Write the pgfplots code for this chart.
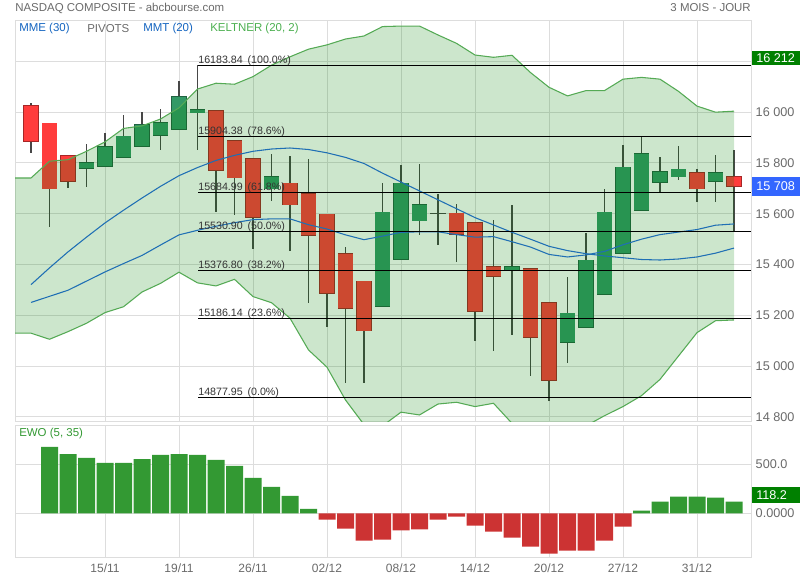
\documentclass[border=0pt]{standalone}
\usepackage{fontspec}
\setmainfont{Liberation Sans}
\usepackage{pgfplots}
\usepackage{pgfplotstable}
\pgfplotsset{compat=1.18}

\definecolor{cgreen}{HTML}{339966}
\definecolor{cred}{HTML}{FF3C3C}
\definecolor{wick}{HTML}{474747}
\definecolor{band}{HTML}{008000}
\definecolor{bandline}{HTML}{55AA55}
\definecolor{maline}{HTML}{1F6FB4}
\definecolor{gridc}{HTML}{DDDDDD}
\definecolor{txt}{HTML}{6A6A6A}
\definecolor{fibtxt}{HTML}{333333}
\definecolor{ewog}{HTML}{339933}
\definecolor{ewor}{HTML}{CC3333}
\definecolor{lblblue}{HTML}{1565C0}
\definecolor{lblgreen}{HTML}{4CAF50}
\definecolor{boxblue}{HTML}{3366FF}
\definecolor{boxgreen}{HTML}{008000}

% daily candles, x = trading-day index
\pgfplotstableread{
i o h l c
0 16026 16036 15838 15885
1 15957 15957 15547 15698
2 15828 15828 15700 15728
3 15779 15876 15707 15801
4 15787 15919 15783 15863
5 15822 15990 15820 15906
6 15866 16001 15864 15951
7 15909 16014 15852 15959
8 15933 16123 15933 16061
9 15997 16184 15852 16010
10 16005 16005 15606 15771
11 15887 15887 15594 15742
12 15816 15816 15460 15587
13 15699 15837 15649 15746
14 15721 15828 15452 15635
15 15678 15817 15248 15515
16 15599 15599 15153 15288
17 15442 15471 14934 15228
18 15335 15335 14934 15139
19 15236 15721 15236 15607
20 15422 15793 15422 15721
21 15572 15797 15515 15635
22 15603 15679 15478 15603
23 15603 15640 15409 15520
24 15564 15564 15098 15216
25 15391 15577 15059 15355
26 15375 15636 15122 15391
27 15383 15383 14963 15114
28 15249 15249 14862 14944
29 15095 15350 15014 15209
30 15154 15524 15154 15418
31 15284 15699 15284 15607
32 15444 15872 15444 15784
33 15615 15905 15615 15837
34 15725 15825 15687 15765
35 15745 15868 15732 15776
36 15761 15776 15645 15698
37 15729 15833 15645 15761
38 15745 15852 15534 15708
}\candles

% bodies of rising days (lo = open, hi = close)
\pgfplotstableread{
i lo hi
3 15779 15801
4 15787 15863
5 15822 15906
6 15866 15951
7 15909 15959
8 15933 16061
9 15997 16010
13 15699 15746
19 15236 15607
20 15422 15721
21 15572 15635
26 15375 15391
29 15095 15209
30 15154 15418
31 15284 15607
32 15444 15784
33 15615 15837
34 15725 15765
35 15745 15776
37 15729 15761
}\upbodies

% bodies of falling days (lo = close, hi = open)
\pgfplotstableread{
i lo hi
0 15885 16026
1 15698 15957
2 15728 15828
10 15771 16005
11 15742 15887
12 15587 15816
14 15635 15721
15 15515 15678
16 15288 15599
17 15228 15442
18 15139 15335
23 15520 15603
24 15216 15564
25 15355 15391
27 15114 15383
28 14944 15249
36 15698 15761
38 15708 15745
}\downbodies

\pgfplotstableread{
i up lo
-1 15741 15130
0 15741 15130
1 15807 15106
2 15813 15136
3 15846 15169
4 15883 15211
5 15936 15234
6 15946 15292
7 15973 15326
8 16017 15370
9 16091 15328
10 16114 15316
11 16110 15342
12 16140 15274
13 16185 15250
14 16218 15189
15 16248 15064
16 16265 14996
17 16288 14867
18 16300 14770
19 16337 14765
20 16339 14819
21 16339 14808
22 16304 14851
23 16271 14858
24 16225 14841
25 16216 14854
26 16224 14775
27 16156 14770
28 16098 14720
29 16064 14720
30 16085 14765
31 16085 14805
32 16130 14841
33 16137 14884
34 16130 14948
35 16082 15040
36 16024 15132
37 16000 15179
38 16004 15182
}\keltner

\pgfplotstableread{
i a b
0 15321 15251
1 15387 15275
2 15450 15299
3 15508 15335
4 15564 15371
5 15614 15404
6 15662 15436
7 15708 15477
8 15750 15517
9 15782 15535
10 15810 15551
11 15830 15565
12 15846 15577
13 15855 15580
14 15859 15580
15 15853 15557
16 15840 15540
17 15822 15517
18 15798 15498
19 15760 15512
20 15725 15527
21 15690 15529
22 15655 15529
23 15620 15518
24 15585 15508
25 15556 15510
26 15527 15490
27 15500 15469
28 15472 15440
29 15455 15430
30 15443 15438
31 15434 15452
32 15427 15478
33 15420 15500
34 15418 15518
35 15422 15528
36 15430 15538
37 15445 15555
38 15465 15560
}\averages

\pgfplotstableread{
i v
1 677
2 605
3 565
4 514
5 514
6 554
7 595
8 605
9 595
10 544
11 483
12 361
13 269
14 177
15 44
16 -65
17 -156
18 -279
19 -269
20 -173
21 -163
22 -65
23 -34
24 -126
25 -187
26 -248
27 -340
28 -412
29 -381
30 -381
31 -279
32 -136
33 27
34 119
35 170
36 170
37 160
38 118.2
}\ewo

\pgfplotsset{
  body/.style 2 args={draw=none, mark=none,
    error bars/.cd, y dir=both, y explicit, error mark=none,
    error bar style={line width=#1, draw=#2}},
}

\newcommand\fibline[2]{%
  \addplot[black, line width=0.75pt] coordinates {(9.03,#1) (38.919,#1)};
  \node[anchor=base west, inner sep=0pt, yshift=1.6pt, text=fibtxt,
        font=\fontsize{8}{9}\selectfont] at (axis cs:9.03,#1) {#1\hspace{0.45em}(#2\%)};
}

\begin{document}
\begin{tikzpicture}

\begin{axis}[
  at={(11.25pt,118.875pt)}, anchor=south west,
  scale only axis, width=552pt, height=300.375pt,
  xmin=-0.865, xmax=38.919, ymin=14782.3, ymax=16359,
  scaled y ticks=false,
  xtick={4,8,...,36}, xticklabels={},
  ytick={14800,15000,15200,15400,15600,15800,16000,16200},
  yticklabels={14 800,15 000,15 200,15 400,15 600,15 800,16 000,{}},
  yticklabel pos=right,
  yticklabel style={font=\fontsize{9.5}{11}\selectfont, text=txt},
  major tick length=0pt,
  grid=major, major grid style={draw=gridc, line width=0.75pt},
  axis line style={draw=gridc, line width=0.75pt},
]
% wicks
\addplot[body={0.8pt}{wick}]
  table[x=i, y expr={(\thisrow{h}+\thisrow{l})/2}, y error expr={(\thisrow{h}-\thisrow{l})/2}] {\candles};
% bodies: darker outline first, then the body colour
\addplot[body={11.7pt}{cgreen!65!black}]
  table[x=i, y expr={(\thisrow{lo}+\thisrow{hi})/2}, y error expr={(\thisrow{hi}-\thisrow{lo})/2+2}] {\upbodies};
\addplot[body={10.9pt}{cgreen}]
  table[x=i, y expr={(\thisrow{lo}+\thisrow{hi})/2}, y error expr={(\thisrow{hi}-\thisrow{lo})/2}] {\upbodies};
\addplot[body={11.7pt}{cred!65!black}]
  table[x=i, y expr={(\thisrow{lo}+\thisrow{hi})/2}, y error expr={(\thisrow{hi}-\thisrow{lo})/2+2}] {\downbodies};
\addplot[body={10.9pt}{cred}]
  table[x=i, y expr={(\thisrow{lo}+\thisrow{hi})/2}, y error expr={(\thisrow{hi}-\thisrow{lo})/2}] {\downbodies};
% doji
\addplot[body={11.5pt}{wick}] coordinates {(22,15603) +- (0,2)};

% Keltner channel, laid over the candles (area between lower and upper band)
\addplot[draw=none, stack plots=y, forget plot] table[x=i, y=lo] {\keltner};
\addplot[fill=band, fill opacity=0.2, draw=none, stack plots=y]
  table[x=i, y expr={\thisrow{up}-\thisrow{lo}}] {\keltner} \closedcycle;
\addplot[bandline, line width=0.8pt] table[x=i, y=up] {\keltner};
\addplot[bandline, line width=0.8pt] table[x=i, y=lo] {\keltner};

% moving averages
\addplot[maline, line width=0.8pt] table[x=i, y=a] {\averages};
\addplot[maline, line width=0.8pt] table[x=i, y=b] {\averages};

% pivots
\fibline{16183.84}{100.0}
\fibline{15904.38}{78.6}
\fibline{15684.99}{61.8}
\fibline{15530.90}{50.0}
\fibline{15376.80}{38.2}
\fibline{15186.14}{23.6}
\fibline{14877.95}{0.0}
\end{axis}

\begin{axis}[
  at={(11.25pt,16.725pt)}, anchor=south west,
  scale only axis, width=552pt, height=99pt,
  xmin=-0.865, xmax=38.919, ymin=-453, ymax=894,
  xtick={4,8,...,36},
  xticklabels={15/11,19/11,26/11,02/12,08/12,14/12,20/12,27/12,31/12},
  xticklabel style={font=\fontsize{9}{11}\selectfont, text=txt, yshift=-1pt},
  ytick={0,500}, yticklabels={0.0000,500.0},
  yticklabel pos=right,
  yticklabel style={font=\fontsize{9.5}{11}\selectfont, text=txt},
  major tick length=0pt,
  grid=major, major grid style={draw=gridc, line width=0.75pt},
  axis line style={draw=gridc, line width=0.75pt},
  ybar, bar width=12.75pt,
]
\addplot[fill=ewog, draw=none, bar shift=0pt, restrict y to domain=0:5000] table[x=i, y=v] {\ewo};
\addplot[fill=ewor, draw=none, bar shift=0pt, restrict y to domain=-5000:0] table[x=i, y=v] {\ewo};
\end{axis}

% titles and legend
\node[anchor=west, inner sep=0pt, text=txt, font=\fontsize{8.6}{10}\selectfont] at (11.25pt,429pt) {NASDAQ COMPOSITE - abcbourse.com};
\node[anchor=east, inner sep=0pt, text=txt, font=\fontsize{8.6}{10}\selectfont] at (563.25pt,429pt) {3 MOIS - JOUR};
\node[anchor=west, inner sep=0pt, text=lblblue, font=\fontsize{8.6}{10}\selectfont] at (14.25pt,413.25pt) {MME (30)};
\node[anchor=west, inner sep=0pt, text=txt, font=\fontsize{8.6}{10}\selectfont] at (65.25pt,413.25pt) {PIVOTS};
\node[anchor=west, inner sep=0pt, text=lblblue, font=\fontsize{8.6}{10}\selectfont] at (107.25pt,413.25pt) {MMT (20)};
\node[anchor=west, inner sep=0pt, text=lblgreen, font=\fontsize{8.6}{10}\selectfont] at (157.5pt,413.25pt) {KELTNER (20, 2)};
\node[anchor=west, inner sep=0pt, text=ewog, font=\fontsize{8.6}{10}\selectfont] at (14.25pt,109.5pt) {EWO (5, 35)};

% value boxes on the right
\fill[boxgreen] (564pt,386pt) rectangle (600pt,397pt);
\node[anchor=west, inner sep=0pt, text=white, font=\fontsize{9.5}{11}\selectfont] at (567pt,391.5pt) {16 212};
\fill[boxblue] (564pt,288.2pt) rectangle (600pt,302.2pt);
\node[anchor=west, inner sep=0pt, text=white, font=\fontsize{9.5}{11}\selectfont] at (567pt,295.2pt) {15 708};
\fill[boxgreen] (564pt,57.5pt) rectangle (600pt,70pt);
\node[anchor=west, inner sep=0pt, text=white, font=\fontsize{9.5}{11}\selectfont] at (567pt,63.75pt) {118.2};

\pgfresetboundingbox
\path[use as bounding box] (0,0) rectangle (600pt,435pt);
\end{tikzpicture}
\end{document}
